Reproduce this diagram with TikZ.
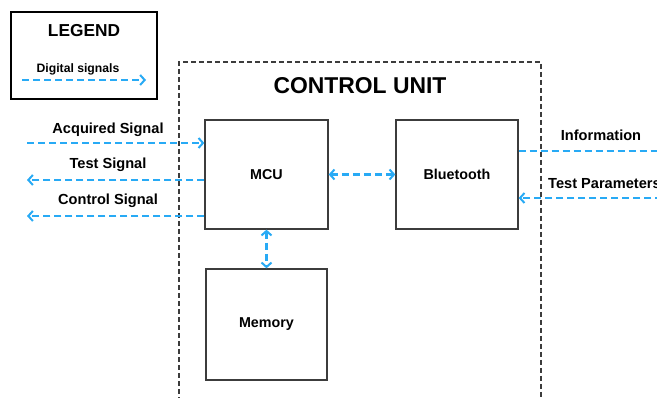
\documentclass[tikz,border=0pt]{standalone}
\usepackage{fontspec}
\setmainfont{Liberation Sans}
\usetikzlibrary{arrows.meta, positioning}

\definecolor{sigblue}{RGB}{40,170,245}
\definecolor{boxgray}{RGB}{60,60,60}

\tikzset{
    block/.style={draw=boxgray, line width=1.3pt, rectangle, inner sep=0pt, font=\bfseries\fontsize{14.3}{16}\selectfont},
    digital/.style={draw=sigblue, line width=2.4pt, dash pattern=on 7pt off 4pt, -{Straight Barb[length=4.5pt,width=10pt,line width=2pt]}},
    digitalboth/.style={digital, {Straight Barb[length=4.5pt,width=10pt,line width=2pt]}-{Straight Barb[length=4.5pt,width=10pt,line width=2pt]}},
    siglabel/.style={font=\bfseries\fontsize{14.6}{17}\selectfont}
}

\begin{document}
\begin{tikzpicture}[x=1pt, y=-1pt]
    \fill[white] (0,0) rectangle (657,398);
    \useasboundingbox (0,0) rectangle (657,398);

    % legend
    \node[draw=black, line width=1.3pt, minimum width=146pt, minimum height=87pt, inner sep=0pt] (legend) at (84,55.5) {};
    \node[font=\bfseries\fontsize{17.3}{19}\selectfont] (legtitle) at (84,31) {LEGEND};
    \node[font=\bfseries\fontsize{12.2}{14}\selectfont] (legtext) at (78,69) {Digital signals};
    \coordinate (legA) at (22,80);
    \coordinate (legB) at (146,80);
    \draw[digital] (legA) -- (legB);

    % control unit frame
    \draw[boxgray, line width=1.2pt, dash pattern=on 5pt off 3pt] (179,402) -- (179,62) -- (541,62) -- (541,402);
    \node[font=\bfseries\fontsize{22.9}{26}\selectfont] (cutitle) at (360,86) {CONTROL UNIT};

    % blocks
    \node[block, minimum width=123pt, minimum height=109pt] (mcu) at (266.5,174.5) {MCU};
    \node[block, minimum width=122pt, minimum height=109pt] (bt) at (457,174.5) {Bluetooth};
    \node[block, minimum width=121pt, minimum height=111pt] (mem) at (266.5,324.5) {Memory};

    % internal links
    \draw[digitalboth] (mcu) -- (bt);
    \draw[digitalboth] (mcu.south) -- (mem.north);

    % left side signals
    \coordinate (acq) at (27,143);
    \coordinate (tst) at (27,180);
    \coordinate (ctl) at (27,216);
    \draw[digital] (acq) -- (acq -| mcu.west);
    \draw[digital] (tst -| mcu.west) -- (tst);
    \draw[digital] (ctl -| mcu.west) -- (ctl);
    \node[siglabel] (acqlbl) at (108,129.5) {Acquired Signal};
    \node[siglabel] (tstlbl) at (108,164.5) {Test Signal};
    \node[siglabel] (ctllbl) at (108,200.5) {Control Signal};

    % right side signals
    \coordinate (info) at (662,151);
    \coordinate (tpar) at (662,198);
    \draw[digital, -] (info -| bt.east) -- (info);
    \draw[digital] (tpar) -- (tpar -| bt.east);
    \node[siglabel] (infolbl) at (601,135.5) {Information};
    \node[siglabel, anchor=west, inner sep=0pt] (tparlbl) at (548,183.5) {Test Parameters};
\end{tikzpicture}
\end{document}
